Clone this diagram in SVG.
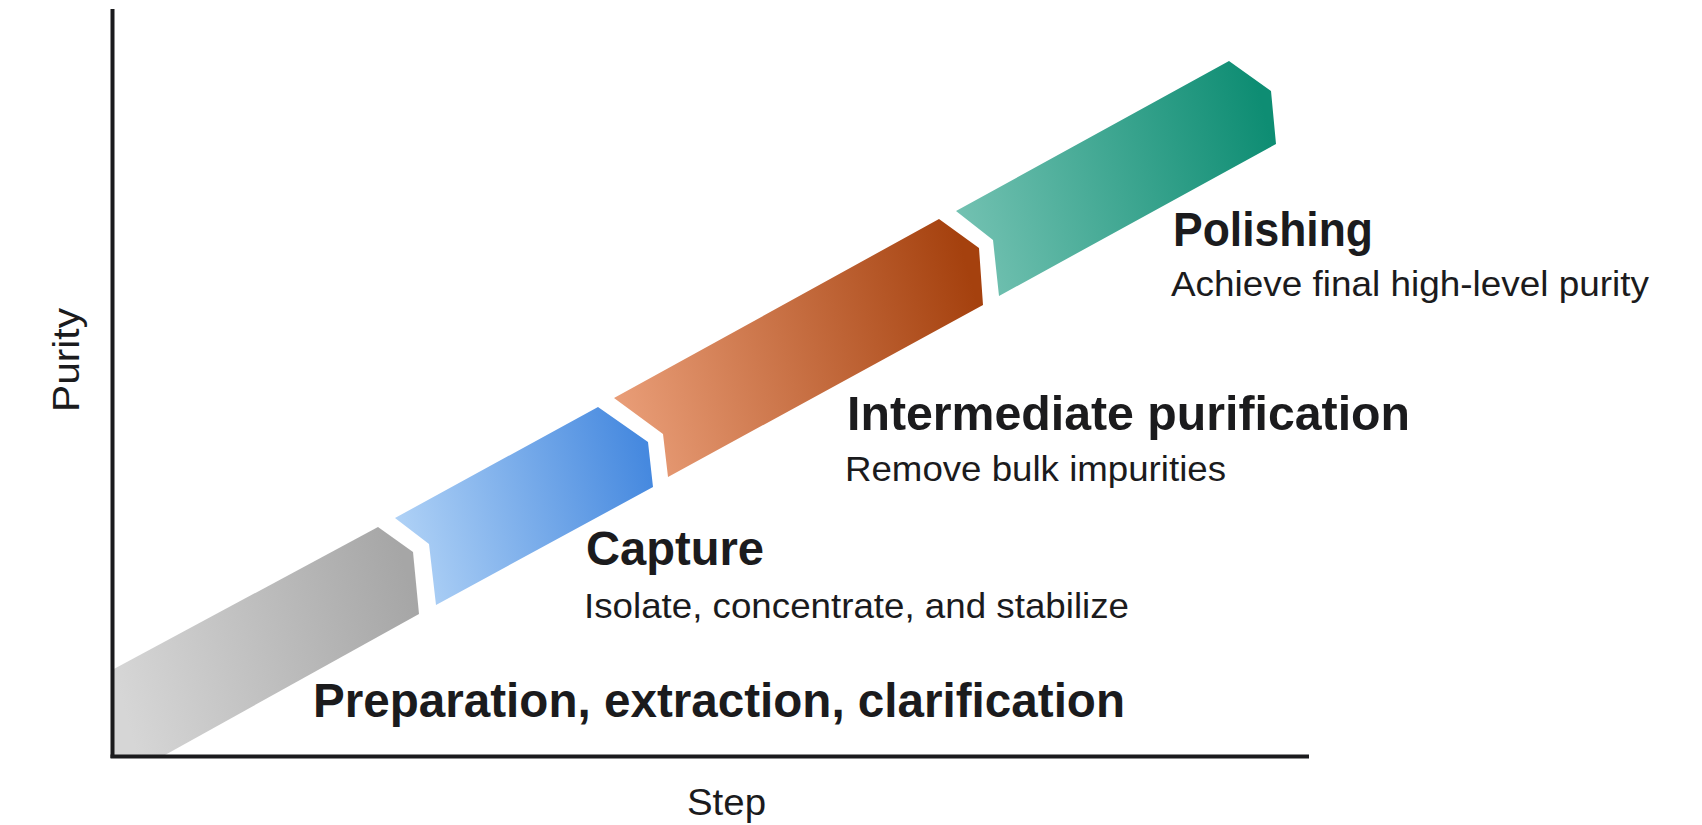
<svg xmlns="http://www.w3.org/2000/svg" width="1702" height="825" viewBox="0 0 1702 825">
  <defs>
    <linearGradient id="gGray" x1="0" y1="0.6" x2="1" y2="0.4">
      <stop offset="0" stop-color="#d6d6d6"/>
      <stop offset="1" stop-color="#a6a6a6"/>
    </linearGradient>
    <linearGradient id="gBlue" x1="0" y1="0.6" x2="1" y2="0.4">
      <stop offset="0" stop-color="#b0d2f6"/>
      <stop offset="1" stop-color="#4689df"/>
    </linearGradient>
    <linearGradient id="gOrange" x1="0" y1="0.6" x2="1" y2="0.4">
      <stop offset="0" stop-color="#e89c76"/>
      <stop offset="1" stop-color="#a5410e"/>
    </linearGradient>
    <linearGradient id="gTeal" x1="0" y1="0.6" x2="1" y2="0.4">
      <stop offset="0" stop-color="#72c1b1"/>
      <stop offset="1" stop-color="#0e8d73"/>
    </linearGradient>
  </defs>
  <style>
    .title { font-family: "Liberation Sans", Arial, sans-serif; font-weight: bold; font-size: 48px; fill: #1b1b1d; }
    .sub { font-family: "Liberation Sans", Arial, sans-serif; font-size: 35px; fill: #1b1b1d; }
    .axislabel { font-family: "Liberation Sans", Arial, sans-serif; font-size: 37px; fill: #1b1b1d; }
    .axis { stroke: #1b1b1d; stroke-width: 4; fill: none; }
  </style>

  <g id="preparation">
    <polygon points="112,670 378,527 413,552 419,614 165,755 112,755" fill="url(#gGray)"/>
    <text class="title" x="313" y="717" textLength="812" lengthAdjust="spacingAndGlyphs">Preparation, extraction, clarification</text>
  </g>

  <g id="capture">
    <polygon points="395,518 598,407 648,442 653,487 436,605 429,544" fill="url(#gBlue)"/>
    <text class="title" x="586" y="565" textLength="178" lengthAdjust="spacingAndGlyphs">Capture</text>
    <text class="sub" x="584" y="618" textLength="545" lengthAdjust="spacingAndGlyphs">Isolate, concentrate, and stabilize</text>
  </g>

  <g id="intermediate">
    <polygon points="614,398 939,219 979,248 983,305 668,477 663,434" fill="url(#gOrange)"/>
    <text class="title" x="847" y="430" textLength="563" lengthAdjust="spacingAndGlyphs">Intermediate purification</text>
    <text class="sub" x="845" y="481" textLength="381" lengthAdjust="spacingAndGlyphs">Remove bulk impurities</text>
  </g>

  <g id="polishing">
    <polygon points="956,211 1229,61 1271,91 1276,144 999,296 993,240" fill="url(#gTeal)"/>
    <text class="title" x="1173" y="246" textLength="200" lengthAdjust="spacingAndGlyphs">Polishing</text>
    <text class="sub" x="1171" y="296" textLength="478" lengthAdjust="spacingAndGlyphs">Achieve final high-level purity</text>
  </g>

  <g id="axes">
    <line class="axis" x1="112.5" y1="9" x2="112.5" y2="758"/>
    <line class="axis" x1="110.5" y1="756.5" x2="1309" y2="756.5"/>
    <text class="axislabel" x="687" y="815" textLength="79" lengthAdjust="spacingAndGlyphs">Step</text>
    <text class="axislabel" transform="translate(79,412) rotate(-90)" x="0" y="0" textLength="104" lengthAdjust="spacingAndGlyphs">Purity</text>
  </g>
</svg>
